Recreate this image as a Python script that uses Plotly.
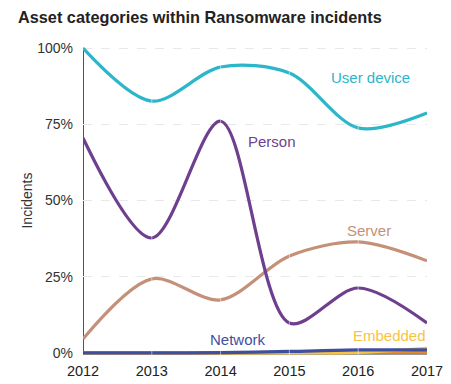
import plotly.graph_objects as go

years = [2012, 2013, 2014, 2015, 2016, 2017]
user_device = [100, 82.6, 93.8, 91.8, 73.8, 78.7]
person = [70.5, 37.7, 76.0, 9.8, 21.3, 9.8]
server = [4.6, 24.3, 17.4, 31.8, 36.4, 30.2]
network = [0.0, 0.0, 0.1, 0.5, 1.0, 1.0]
embedded = [0.0, 0.0, 0.0, 0.0, 0.2, 1.5]
other = [0.0, 0.0, 0.0, 0.2, 0.3, 0.3]

y_ticks = [0, 25, 50, 75, 100]
y_tick_labels = ["0%", "25%", "50%", "75%", "100%"]

series = [
    ("Other", other, "#e8892e"),
    ("Embedded", embedded, "#f7c341"),
    ("Network", network, "#3f4fa0"),
    ("Server", server, "#c49078"),
    ("Person", person, "#6f3f8f"),
    ("User device", user_device, "#2bb6c9"),
]

# page body has an 8px margin, so the figure is drawn 8px smaller
W, H = 443, 376

fig = go.Figure()
for name, vals, col in series:
    fig.add_trace(go.Scatter(
        x=years, y=vals, mode="lines", name=name,
        line=dict(color=col, width=3.2, shape="spline", smoothing=0.9),
        hoverinfo="skip",
    ))

labels = [
    ("User device", 2016.18, 90.3, "#2bb6c9"),
    ("Person", 2014.74, 69.5, "#6f3f8f"),
    ("Server", 2016.15, 40.3, "#c49078"),
    ("Network", 2014.25, 4.3, "#3f4fa0"),
    ("Embedded", 2016.45, 5.6, "#f7c341"),
]
for text, x, y, col in labels:
    fig.add_annotation(x=x, y=y, text=text, showarrow=False,
                       font=dict(color=col, size=15, family="Liberation Sans, Arial"),
                       xanchor="center", yanchor="middle")

shapes = [
    dict(type="line", xref="x", yref="y", x0=2012, x1=2012, y0=-0.7, y1=100,
         line=dict(color="#555555", width=2), layer="below"),
    dict(type="line", xref="x", yref="y", x0=2012, x1=2017, y0=-0.3, y1=-0.3,
         line=dict(color="#777777", width=2), layer="below"),
]
for yr in years[1:-1]:
    shapes.append(dict(type="line", xref="x", yref="y", x0=yr, x1=yr, y0=-1, y1=101,
                       line=dict(color="white", width=1), opacity=0.5, layer="above"))

fig.update_layout(
    width=W, height=H,
    margin=dict(l=75, r=24, t=37, b=28, autoexpand=False),
    paper_bgcolor="white", plot_bgcolor="white",
    showlegend=False,
    font=dict(family="Liberation Sans, Arial", color="#333333"),
    title=dict(text="<b>Asset categories within Ransomware incidents</b>",
               x=10 / W, xanchor="left", xref="container", y=1 - 9 / H, yanchor="middle",
               yref="container",
               font=dict(size=16.3, color="#222222", family="Liberation Sans, Arial")),
    shapes=shapes,
    xaxis=dict(range=[2012, 2017], tickvals=years, ticktext=[str(y) for y in years],
               showgrid=False, zeroline=False, showline=False, ticks="", automargin=False,
               tickfont=dict(size=14.5, color="#222222"), ticklabelstandoff=4),
    yaxis=dict(range=[-1, 101], tickvals=y_ticks, ticktext=y_tick_labels, automargin=False,
               showgrid=True, gridcolor="#e8e8e8", griddash="dash", gridwidth=1,
               zeroline=False, showline=False, ticks="",
               tickfont=dict(size=14, color="#333333"), ticklabelstandoff=9,
               title=dict(text="Incidents", font=dict(size=14, color="#333333"), standoff=1)),
)

fig.write_html("out.html")
